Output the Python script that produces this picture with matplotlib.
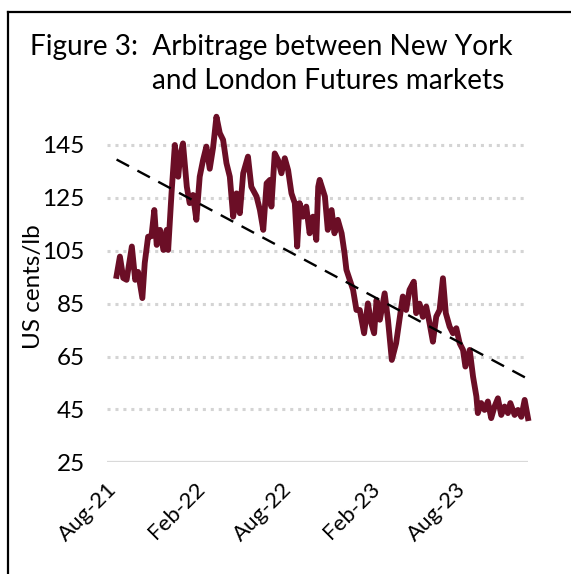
import numpy as np
import pandas as pd
import matplotlib
matplotlib.use("Agg")
import matplotlib.pyplot as plt
import matplotlib.dates as mdates
from matplotlib.lines import Line2D

plt.rcParams["font.family"] = ["Lato", "DejaVu Sans"]

# days after 1 Aug 2021, spread NY-London arbitrage in US cents/lb
day = [20, 27, 34, 41, 52, 59, 65, 74, 79, 86, 93, 99, 104, 111, 118, 125, 128,
       135, 142, 149, 153, 159, 167, 173, 180, 187, 194, 201, 208, 215, 222, 229,
       236, 243, 250, 257, 264, 271, 278, 285, 295, 302, 313, 320, 327, 334, 341,
       344, 351, 358, 365, 372, 379, 386, 393, 398, 403, 410, 417, 424, 431, 438,
       442, 445, 456, 462, 470, 476, 483, 491, 497, 501, 508, 515, 522, 529, 538,
       546, 553, 559, 564, 571, 581, 588, 596, 605, 612, 619, 626, 633, 642, 647,
       654, 661, 668, 675, 682, 689, 696, 703, 709, 717, 724, 731, 738, 745, 750,
       759, 766, 773, 776, 783, 790, 797, 804, 811, 818, 825, 832, 839, 844, 853,
       860, 867, 874, 881]
spread = [95.5, 102.8, 94.7, 94.0, 106.6, 94.0, 97.0, 87.1, 100.4, 110.3, 110.5,
          120.4, 107.2, 112.9, 105.3, 112.9, 105.3, 126.7, 145.0, 133.0, 140.6,
          145.6, 129.2, 123.0, 126.1, 116.7, 133.0, 139.3, 144.4, 136.0, 144.0,
          155.7, 149.5, 146.9, 138.1, 133.0, 117.9, 126.7, 119.2, 134.3, 140.6,
          129.2, 125.5, 120.4, 112.9, 130.5, 131.8, 121.7, 141.8, 139.3, 134.3,
          140.0, 135.5, 126.7, 123.0, 106.6, 123.0, 117.9, 121.7, 111.6, 117.9,
          109.1, 129.2, 131.8, 125.5, 112.9, 120.4, 111.6, 116.7, 111.6, 104.1,
          97.8, 94.0, 90.2, 82.6, 82.6, 73.8, 85.1, 77.6, 73.8, 86.4, 78.9, 88.9,
          78.9, 63.7, 70.0, 78.9, 87.7, 82.6, 90.2, 93.3, 81.4, 85.0, 80.0, 83.9,
          77.6, 70.6, 80.1, 82.6, 94.6, 81.4, 76.3, 73.8, 75.7, 70.0, 67.5, 61.2,
          67.5, 57.4, 49.9, 43.6, 47.4, 44.8, 48.0, 41.7, 46.1, 49.2, 42.9, 46.1,
          43.6, 47.4, 42.9, 44.8, 42.2, 48.6, 41.7]
trend_start, trend_end = 139.5, 56.5

start = pd.Timestamp("2021-08-01")
dates = start + pd.to_timedelta(day, unit="D")
tick_dates = pd.to_datetime(["2021-08-01", "2022-02-01", "2022-08-01", "2023-02-01", "2023-08-01"])
tick_labels = ["Aug-21", "Feb-22", "Aug-22", "Feb-23", "Aug-23"]
yticks = [25, 45, 65, 85, 105, 125, 145]

fig = plt.figure(figsize=(5.71, 5.74), dpi=100)
ax = fig.add_axes([107/571, 1 - 462.3/574, 421/571, (462.3 - 110.6)/574])

for y in yticks[1:]:
    ax.axhline(y, color="#d4d4d4", lw=2.2, ls=(0, (1, 1.6)), zorder=1)
ax.axhline(25, color="#d9d9d9", lw=1.6, zorder=1)

ax.plot(dates, spread, color="#6b0e26", lw=4.2, solid_joinstyle="round", zorder=3, clip_on=False)
ax.plot([dates[0], dates[-1]], [trend_start, trend_end], color="black", lw=1.7,
        ls=(0, (6, 4)), zorder=4)

ax.set_xlim(start, start + pd.Timedelta(days=881))
ax.set_ylim(25, 158)
ax.set_yticks(yticks)
ax.set_yticklabels([str(v) for v in yticks], fontsize=17.5)
ax.set_xticks(tick_dates)
ax.set_xticklabels(tick_labels, fontsize=16, rotation=45, ha="right", rotation_mode="anchor")
ax.tick_params(axis="both", length=0)
ax.tick_params(axis="y", pad=16)
ax.tick_params(axis="x", pad=12)
for s in ax.spines.values():
    s.set_visible(False)
ax.set_ylabel("US cents/lb", fontsize=17.5)
ax.yaxis.set_label_coords(-0.15, 0.5)

fig.text(30/571, 1 - 55/574, "Figure 3:  Arbitrage between New York", fontsize=20.2, va="baseline")
fig.text(152/571, 1 - 89/574, "and London Futures markets", fontsize=20.2, va="baseline")

fig.add_artist(Line2D([8/571, 8/571], [0, 1 - 12/574], color="black", lw=1.6))
fig.add_artist(Line2D([8/571, 1], [1 - 12/574, 1 - 12/574], color="black", lw=1.6))

fig.savefig("out.png", dpi=100)
